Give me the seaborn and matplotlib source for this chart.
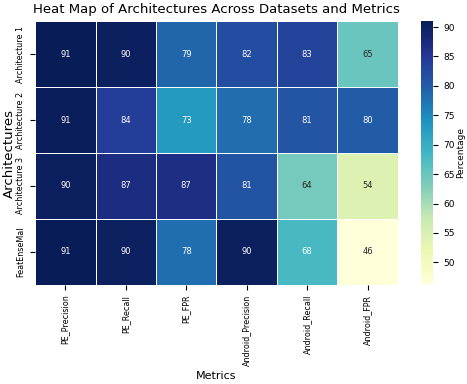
import numpy as np
import pandas as pd
import seaborn as sns
import matplotlib.pyplot as plt

# ==========================================
# DATA
# ==========================================

architectures = ["Architecture 1", "Architecture 2", "Architecture 3", "FeatEnseMal"]

metrics = [
    "PE_Precision",
    "PE_Recall",
    "PE_FPR",
    "Android_Precision",
    "Android_Recall",
    "Android_FPR"
]

arch1 = [91.0, 90.2, 79.1, 82.0, 83.2, 65.0]
arch2 = [90.8, 84.1, 73.0, 78.2, 81.0, 80.0]
arch3 = [90.2, 87.0, 86.8, 81.1, 64.0, 54.2]
featensemal = [90.9, 90.1, 78.0, 90.3, 68.0, 46.3]

df = pd.DataFrame(
    [arch1, arch2, arch3, featensemal],
    index=architectures,
    columns=metrics
)

# ==========================================
# HEATMAP
# ==========================================

fig = plt.figure(figsize=(4.67, 3.84), dpi=100)

ax = fig.add_axes([0.075, 0.258, 0.777, 0.687])
cax = fig.add_axes([0.901, 0.26, 0.027, 0.685])

sns.heatmap(
    df,
    annot=True,
    fmt=".0f",
    cmap="YlGnBu",
    linewidths=0.5,
    linecolor="white",
    annot_kws={"size": 6},
    ax=ax,
    cbar_ax=cax,
    cbar_kws={"label": "Percentage"}
)

ax.set_title("Heat Map of Architectures Across Datasets and Metrics", fontsize=9.5)
ax.set_xlabel("Metrics", fontsize=8)
ax.set_ylabel("Architectures", fontsize=9.5, labelpad=0.5)
ax.tick_params(axis="both", labelsize=5.8)
plt.setp(ax.get_yticklabels(), rotation=90, va="center")
plt.setp(ax.get_xticklabels(), rotation=90)

cax.tick_params(labelsize=6.5)
cax.set_ylabel("Percentage", fontsize=6.5, labelpad=1)

plt.savefig("out.png", dpi=100)
